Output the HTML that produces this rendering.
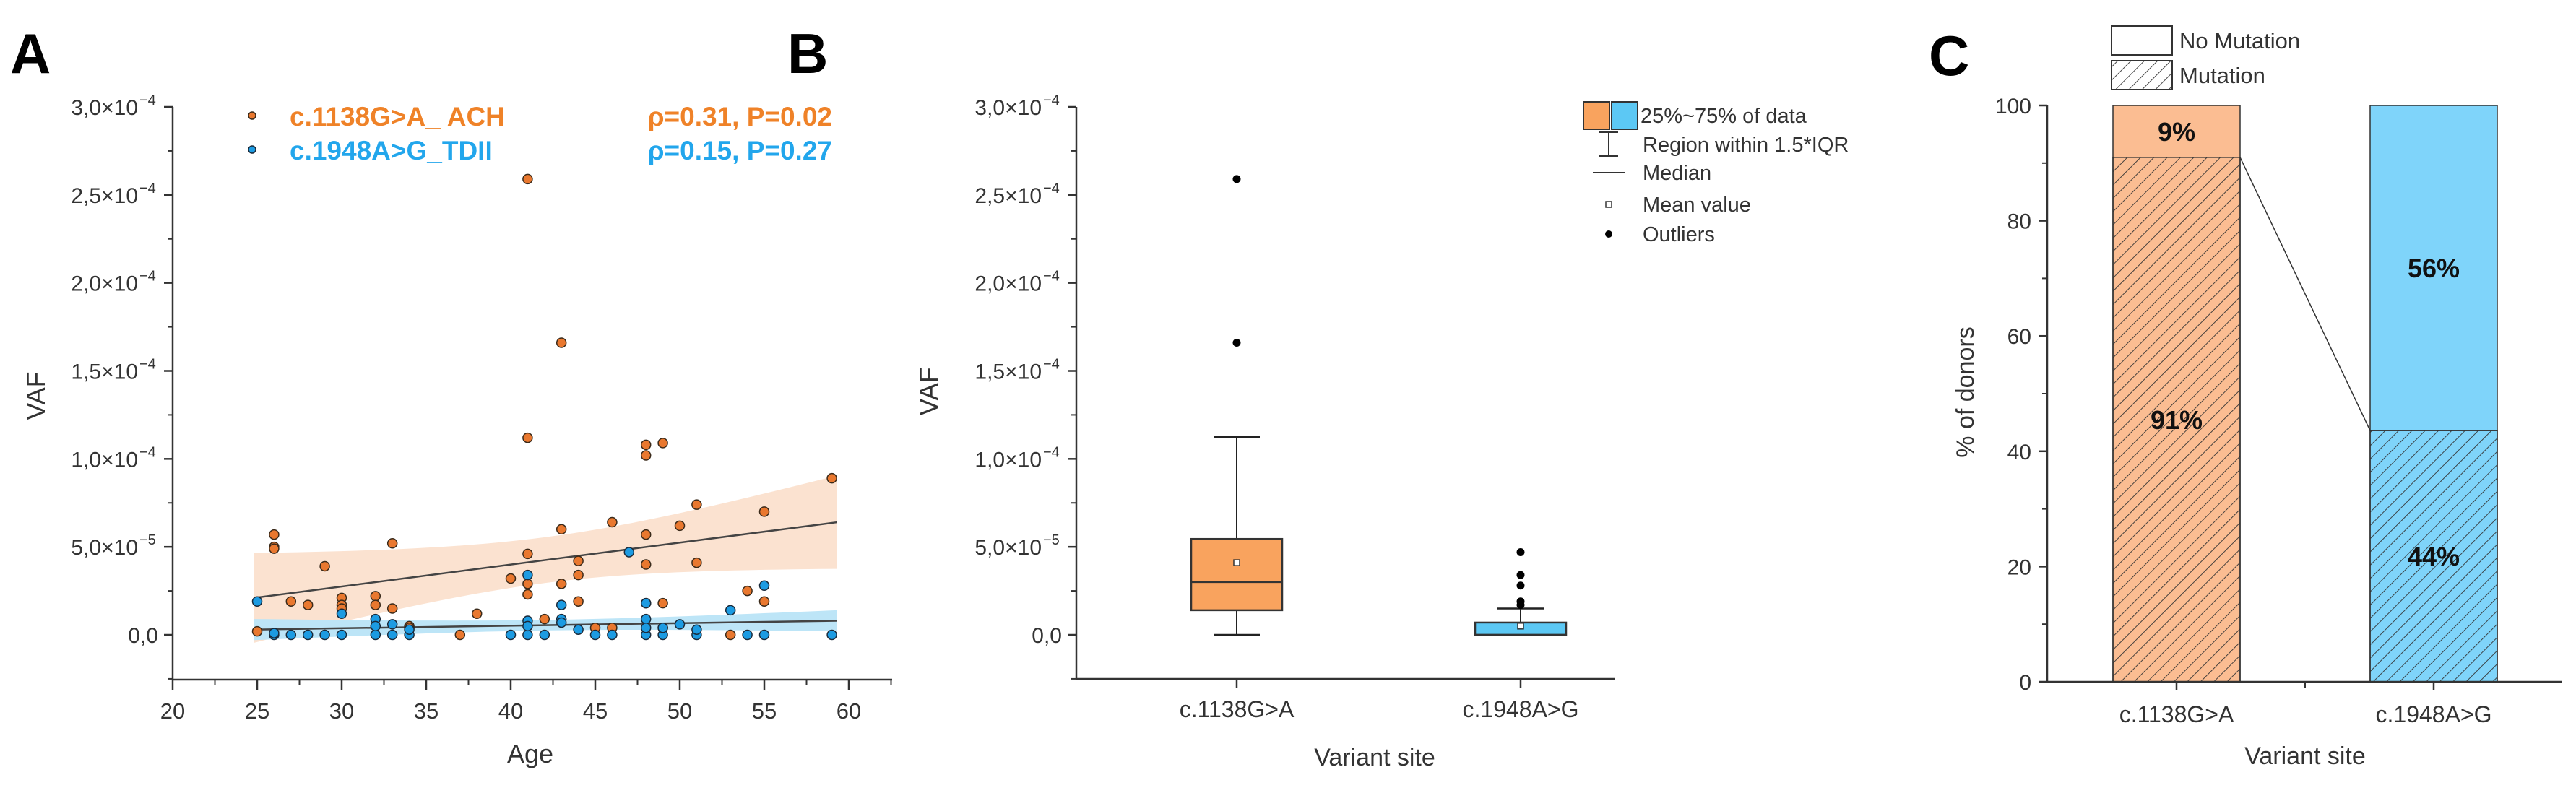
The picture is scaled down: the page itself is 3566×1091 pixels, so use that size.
<!DOCTYPE html>
<html><head><meta charset="utf-8"><style>
html,body{margin:0;padding:0;background:#fff;}
svg{display:block;font-family:"Liberation Sans",Arial,sans-serif;}
</style></head><body>
<svg id="fig" width="3566" height="1091" viewBox="0 0 3566 1091" xmlns="http://www.w3.org/2000/svg">
<defs>
<pattern id="hatch" width="13" height="13" patternUnits="userSpaceOnUse" patternTransform="rotate(45)">
<line x1="0" y1="0" x2="0" y2="13" stroke="#333" stroke-width="1.8"/>
</pattern>
</defs>
<g id="pA"></g>
<g id="pB"></g>
<g id="pC"></g>
</svg>
<script>
// ---- Panel A data ----
const orangeAge=[25,26,26,26,27,28,29,30,30,30,32,32,33,33,34,34,37,38,40,41,41,41,41,41,42,43,43,43,44,44,44,45,46,46,48,48,48,48,48,49,49,49,50,51,51,53,54,55,55,59];
const orangeVaf=[0.2,5.7,5.0,4.9,1.9,1.7,3.9,2.1,1.7,1.5,2.2,1.7,5.2,1.5,0.5,0.4,0,1.2,3.2,25.9,11.2,4.6,2.9,2.3,0.9,16.6,6.0,2.9,4.2,3.4,1.9,0.4,6.4,0.4,10.8,10.2,5.7,4.0,1.8,10.9,1.8,0.4,6.2,7.4,4.1,0,2.5,7.0,1.9,8.9];
const blueAge=[25,26,26,27,28,29,30,30,32,32,32,33,33,34,34,40,41,41,41,41,42,43,43,43,44,45,46,47,48,48,48,48,49,49,50,51,51,53,54,55,55,59];
const blueVaf=[1.9,0,0.1,0,0,0,0,1.2,0,0.9,0.5,0,0.6,0,0.3,0,0,3.4,0.8,0.5,0,1.7,0.9,0.7,0.3,0,0,4.7,0,1.8,0.9,0.4,0,0.4,0.6,0,0.3,1.4,0,2.8,0,0];
const fitOrange=[2.1,6.4];
const fitBlue=[0.3,0.8];
const fitAges=[24.8,59.3];
const ciOrange=[2.55,1.3,2.65];
const ciBlue=[0.6,0.3,0.6];
const aXTicks=[20,25,30,35,40,45,50,55,60];
const vafTicks=[0,5,10,15,20,25,30];
const vafTickLabels=["0,0","5,0×10","1,0×10","1,5×10","2,0×10","2,5×10","3,0×10"];
const vafTickExp=["","−5","−4","−4","−4","−4","−4"];
// ---- Panel B data ----
const boxCats=["c.1138G>A","c.1948A>G"];
const boxQ1=[1.4,0.0];
const boxQ3=[5.45,0.7];
const boxMed=[3.0,0.0];
const boxMean=[4.1,0.5];
const boxWLo=[0,0];
const boxWHi=[11.25,1.5];
const outliers=[[25.9,16.6],[4.7,3.4,2.8,1.9,1.7]];
// ---- Panel C data ----
const barCats=["c.1138G>A","c.1948A>G"];
const mutPct=[91,43.6];
const mutLabels=["91%","44%"];
const noMutLabels=["9%","56%"];
const cTicks=[0,20,40,60,80,100];

const NS="http://www.w3.org/2000/svg";
function mk(parent,tag,attrs,text){const e=document.createElementNS(NS,tag);for(const k in attrs)e.setAttribute(k,attrs[k]);if(text!==undefined)e.textContent=text;parent.appendChild(e);return e;}

const vY=v=>879-(v/30)*(879-148);

// ===== Panel A =====
(function(){
const g=document.getElementById('pA');
const X=a=>239+(a-20)*(1175-239)/40;
let t=mk(g,'text',{x:14,y:101,'font-size':78,'font-weight':'bold',fill:'#000'},'A');

function band(fit,ci,color,name){
 let up=[],lo=[];const n=40;
 const xm=(fitAges[0]+fitAges[1])/2;
 for(let i=0;i<=n;i++){const a=fitAges[0]+(fitAges[1]-fitAges[0])*i/n;
  const c=fit[0]+(fit[1]-fit[0])*(a-fitAges[0])/(fitAges[1]-fitAges[0]);
  const edge=a<xm?ci[0]:ci[2];const d=(a-xm)/(xm-fitAges[0]);
  const h=Math.sqrt(ci[1]*ci[1]+(edge*edge-ci[1]*ci[1])*d*d);
  up.push(X(a)+','+vY(c+h));lo.unshift(X(a)+','+vY(c-h));}
 const p=mk(g,'polygon',{points:up.concat(lo).join(' '),fill:color,stroke:'none'});
 
}
band(fitOrange,ciOrange,'#fbe2d0','orange-confidence-band');
band(fitBlue,ciBlue,'#bde5f7','blue-confidence-band');
let l=mk(g,'line',{x1:X(fitAges[0]),y1:vY(fitOrange[0]),x2:X(fitAges[1]),y2:vY(fitOrange[1]),stroke:'#444','stroke-width':2.5});

l=mk(g,'line',{x1:X(fitAges[0]),y1:vY(fitBlue[0]),x2:X(fitAges[1]),y2:vY(fitBlue[1]),stroke:'#444','stroke-width':2.5});

for(let i=0;i<orangeAge.length;i++){const c=mk(g,'circle',{cx:X(orangeAge[i]),cy:vY(orangeVaf[i]),r:6.5,fill:'#e9782f',stroke:'#3a2a1a','stroke-width':1.5});
 }
for(let i=0;i<blueAge.length;i++){const c=mk(g,'circle',{cx:X(blueAge[i]),cy:vY(blueVaf[i]),r:6.5,fill:'#1c9be2',stroke:'#1a2a3a','stroke-width':1.5});
 }
l=mk(g,'line',{x1:239,y1:148,x2:239,y2:941,stroke:'#333','stroke-width':2.5});

l=mk(g,'line',{x1:239,y1:941,x2:1235,y2:941,stroke:'#333','stroke-width':2.5});

for(let i=0;i<aXTicks.length;i++){const x=X(aXTicks[i]);
 mk(g,'line',{x1:x,y1:941,x2:x,y2:955,stroke:'#333','stroke-width':2.5});
 const tx=mk(g,'text',{x:x,y:995,'font-size':31,'text-anchor':'middle',fill:'#333'},aXTicks[i]);
 
 if(i<aXTicks.length-1)mk(g,'line',{x1:x+58.5,y1:941,x2:x+58.5,y2:949,stroke:'#333','stroke-width':2});}
mk(g,'line',{x1:X(62.5),y1:941,x2:X(62.5),y2:949,stroke:'#333','stroke-width':2});
function yticks(g,ax,prefix){
for(let i=0;i<vafTicks.length;i++){const y=vY(vafTicks[i]);
 mk(g,'line',{x1:ax-12,y1:y,x2:ax,y2:y,stroke:'#333','stroke-width':2.5});
 if(i<vafTicks.length-1){const ym=vY(vafTicks[i]+2.5);mk(g,'line',{x1:ax-7,y1:ym,x2:ax,y2:ym,stroke:'#333','stroke-width':2});}
 const tx=mk(g,'text',{x:vafTickExp[i]?ax-48:ax-20,y:y+11,'font-size':30,'text-anchor':'end',fill:'#333'},vafTickLabels[i]);
 
 if(vafTickExp[i]){mk(g,'text',{x:ax-46,y:y-3,'font-size':20,fill:'#333'},vafTickExp[i]);}
}
mk(g,'line',{x1:ax-7,y1:vY(-2.5),x2:ax,y2:vY(-2.5),stroke:'#333','stroke-width':2});
}
yticks(g,239,'a');
t=mk(g,'text',{x:734,y:1056,'font-size':36,'text-anchor':'middle',fill:'#333'},'Age');

t=mk(g,'text',{x:62,y:548,'font-size':36,'text-anchor':'middle',fill:'#333',transform:'rotate(-90 62 548)'},'VAF');

let c=mk(g,'circle',{cx:349,cy:160,r:5,fill:'#e9782f',stroke:'#3a2a1a','stroke-width':1.5});

c=mk(g,'circle',{cx:349,cy:207,r:5,fill:'#1c9be2',stroke:'#1a2a3a','stroke-width':1.5});

t=mk(g,'text',{x:401,y:174,'font-size':37,'font-weight':'bold',fill:'#ef8228'},'c.1138G>A_ ACH');

t=mk(g,'text',{x:401,y:221,'font-size':37,'font-weight':'bold',fill:'#22a6ec'},'c.1948A>G_TDII');

t=mk(g,'text',{x:1152,y:174,'font-size':37,'font-weight':'bold','text-anchor':'end',fill:'#ef8228'},'ρ=0.31, P=0.02');

t=mk(g,'text',{x:1152,y:221,'font-size':37,'font-weight':'bold','text-anchor':'end',fill:'#22a6ec'},'ρ=0.15, P=0.27');

window._yticks=yticks;
})();

// ===== Panel B =====
(function(){
const g=document.getElementById('pB');
const cx=[1712,2105];const hw=63;const cap=32;
const fills=['#f9a35e','#5cc8f4'];
let t=mk(g,'text',{x:1090,y:101,'font-size':78,'font-weight':'bold',fill:'#000'},'B');

for(let i=0;i<boxCats.length;i++){const x=cx[i];
 let l=mk(g,'line',{x1:x,y1:vY(boxWLo[i]),x2:x,y2:vY(boxWHi[i]),stroke:'#222','stroke-width':2});
 
 mk(g,'line',{x1:x-cap,y1:vY(boxWHi[i]),x2:x+cap,y2:vY(boxWHi[i]),stroke:'#222','stroke-width':2.5});
 mk(g,'line',{x1:x-cap,y1:vY(boxWLo[i]),x2:x+cap,y2:vY(boxWLo[i]),stroke:'#222','stroke-width':2.5});
 const r=mk(g,'rect',{x:x-hw,y:vY(boxQ3[i]),width:hw*2,height:vY(boxQ1[i])-vY(boxQ3[i]),fill:fills[i],stroke:'#333','stroke-width':2.5});
 
 mk(g,'line',{x1:x-hw,y1:vY(boxMed[i]),x2:x+hw,y2:vY(boxMed[i]),stroke:'#333','stroke-width':2.5});
 const m=mk(g,'rect',{x:x-4,y:vY(boxMean[i])-4,width:8,height:8,fill:'#fff',stroke:'#333','stroke-width':1.5});
 
 for(const o of outliers[i]){const c=mk(g,'circle',{cx:x,cy:vY(o),r:5.5,fill:'#000'});
  }
 mk(g,'line',{x1:x,y1:940,x2:x,y2:953,stroke:'#333','stroke-width':2.5});
 t=mk(g,'text',{x:x,y:993,'font-size':32,'text-anchor':'middle',fill:'#333'},boxCats[i]);
 
}
let l=mk(g,'line',{x1:1490,y1:148,x2:1490,y2:940,stroke:'#333','stroke-width':2.5});

l=mk(g,'line',{x1:1490,y1:940,x2:2235,y2:940,stroke:'#333','stroke-width':2.5});

window._yticks(g,1490,'b');
t=mk(g,'text',{x:1903,y:1060,'font-size':34,'text-anchor':'middle',fill:'#333'},'Variant site');

t=mk(g,'text',{x:1298,y:542,'font-size':36,'text-anchor':'middle',fill:'#333',transform:'rotate(-90 1298 542)'},'VAF');

const lg=mk(g,'g',{});
mk(lg,'rect',{x:2192,y:141,width:36,height:38,fill:'#f9a35e',stroke:'#333','stroke-width':2});
mk(lg,'rect',{x:2231,y:141,width:36,height:38,fill:'#5cc8f4',stroke:'#333','stroke-width':2});
mk(lg,'line',{x1:2227,y1:183,x2:2227,y2:216,stroke:'#333','stroke-width':2});
mk(lg,'line',{x1:2214,y1:183,x2:2240,y2:183,stroke:'#333','stroke-width':2});
mk(lg,'line',{x1:2214,y1:216,x2:2240,y2:216,stroke:'#333','stroke-width':2});
mk(lg,'line',{x1:2205,y1:239,x2:2249,y2:239,stroke:'#333','stroke-width':2});
mk(lg,'rect',{x:2223,y:279,width:8,height:8,fill:'#fff',stroke:'#333','stroke-width':1.5});
mk(lg,'circle',{cx:2227,cy:324,r:5,fill:'#000'});
const lt=["25%~75% of data","Region within 1.5*IQR","Median","Mean value","Outliers"];
const ly=[160,200,239,283,324];const lx=[2271,2274,2274,2274,2274];
for(let i=0;i<lt.length;i++){t=mk(lg,'text',{x:lx[i],y:ly[i]+10,'font-size':29,fill:'#333'},lt[i]);
 }
})();

// ===== Panel C =====
(function(){
const g=document.getElementById('pC');
const Y=v=>944-v*(944-146)/100;
const cx=[3013,3369];const hw=88;
const fills=['#fbbd92','#7fd4fa'];
let t=mk(g,'text',{x:2670,y:104,'font-size':78,'font-weight':'bold',fill:'#000'},'C');

for(let i=0;i<barCats.length;i++){const x=cx[i];
 let r=mk(g,'rect',{x:x-hw,y:Y(100),width:hw*2,height:Y(mutPct[i])-Y(100),fill:fills[i],stroke:'#333','stroke-width':1.5});
 
 r=mk(g,'rect',{x:x-hw,y:Y(mutPct[i]),width:hw*2,height:Y(0)-Y(mutPct[i]),fill:fills[i],stroke:'#333','stroke-width':1.5});
 
 mk(g,'rect',{x:x-hw,y:Y(mutPct[i]),width:hw*2,height:Y(0)-Y(mutPct[i]),fill:'url(#hatch)',stroke:'#333','stroke-width':1.5});
 t=mk(g,'text',{x:x,y:(Y(100)+Y(mutPct[i]))/2+13,'font-size':36,'font-weight':'bold','text-anchor':'middle',fill:'#111'},noMutLabels[i]);
 
 t=mk(g,'text',{x:x,y:(Y(0)+Y(mutPct[i]))/2+13,'font-size':36,'font-weight':'bold','text-anchor':'middle',fill:'#111'},mutLabels[i]);
 
 mk(g,'line',{x1:x,y1:944,x2:x,y2:956,stroke:'#333','stroke-width':2.5});
 t=mk(g,'text',{x:x,y:1000,'font-size':32,'text-anchor':'middle',fill:'#333'},barCats[i]);
 
}
let l=mk(g,'line',{x1:cx[0]+hw,y1:Y(mutPct[0]),x2:cx[1]-hw,y2:Y(mutPct[1]),stroke:'#333','stroke-width':1.5});

l=mk(g,'line',{x1:2834,y1:146,x2:2834,y2:944,stroke:'#333','stroke-width':2.5});

l=mk(g,'line',{x1:2834,y1:944,x2:3547,y2:944,stroke:'#333','stroke-width':2.5});

mk(g,'line',{x1:3191,y1:944,x2:3191,y2:952,stroke:'#333','stroke-width':2});
for(let i=0;i<cTicks.length;i++){const y=Y(cTicks[i]);
 mk(g,'line',{x1:2822,y1:y,x2:2834,y2:y,stroke:'#333','stroke-width':2.5});
 if(i<cTicks.length-1)mk(g,'line',{x1:2827,y1:Y(cTicks[i]+10),x2:2834,y2:Y(cTicks[i]+10),stroke:'#333','stroke-width':2});
 t=mk(g,'text',{x:2812,y:y+11,'font-size':30,'text-anchor':'end',fill:'#333'},cTicks[i]);
 }
t=mk(g,'text',{x:3191,y:1058,'font-size':34,'text-anchor':'middle',fill:'#333'},'Variant site');

t=mk(g,'text',{x:2732,y:543,'font-size':34,'text-anchor':'middle',fill:'#333',transform:'rotate(-90 2732 543)'},'% of donors');

const lg=mk(g,'g',{});
mk(lg,'rect',{x:2923,y:36,width:84,height:40,fill:'#fff',stroke:'#333','stroke-width':2});
mk(lg,'rect',{x:2923,y:84,width:84,height:40,fill:'url(#hatch)',stroke:'#333','stroke-width':2});
t=mk(lg,'text',{x:3017,y:67,'font-size':31,fill:'#333'},'No Mutation');

t=mk(lg,'text',{x:3017,y:115,'font-size':31,fill:'#333'},'Mutation');

})();
</script>
</body></html>
